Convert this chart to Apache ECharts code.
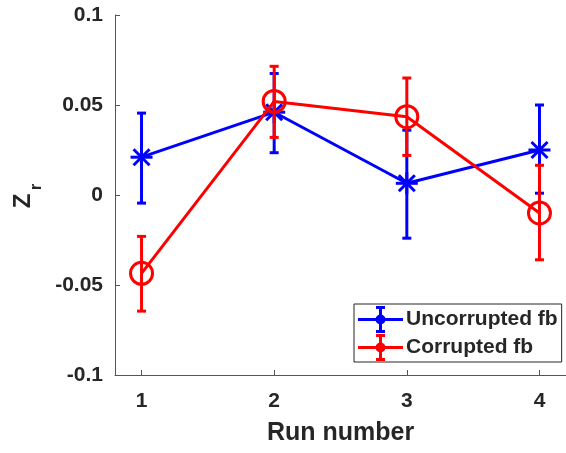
<!DOCTYPE html>
<html>
<head>
<meta charset="utf-8">
<script src="https://cdn.jsdelivr.net/npm/echarts@6/dist/echarts.min.js"></script>
<style>html,body{margin:0;padding:0;background:#fff;}#c{width:566px;height:453px;}</style>
</head>
<body>
<div id="c"></div>
<script>
// ---- data ----
const runs = [1, 2, 3, 4];
const uncorruptedMean = [0.021, 0.046, 0.0065, 0.025];
const uncorruptedLow  = [-0.0045, 0.0235, -0.024, 0.001];
const uncorruptedHigh = [0.0455, 0.0675, 0.036, 0.050];
const corruptedMean = [-0.0435, 0.052, 0.0435, -0.010];
const corruptedLow  = [-0.0645, 0.032, 0.022, -0.036];
const corruptedHigh = [-0.023, 0.0715, 0.065, 0.0165];
const seriesNames = ['Uncorrupted fb', 'Corrupted fb'];
const xTickValues = [1, 2, 3, 4];

const FONT = '"Liberation Sans", Arial, sans-serif';
const TXT = '#262626';
const AX = '#555555';
const BLUE = '#0000ff';
const RED = '#ff0000';

function pairs(means) { return runs.map((r, i) => [r, means[i]]); }
function quads(means, lo, hi) { return runs.map((r, i) => [r, means[i], lo[i], hi[i]]); }

function makeRender(color, marker) {
  return function (params, api) {
    const x = api.value(0), m = api.value(1), lo = api.value(2), hi = api.value(3);
    const pc = api.coord([x, m]), pl = api.coord([x, lo]), ph = api.coord([x, hi]);
    const st = { stroke: color, lineWidth: 3, fill: null };
    const cw = 4.5;
    const ch = [
      { type: 'line', shape: { x1: pl[0], y1: pl[1], x2: ph[0], y2: ph[1] }, style: st },
      { type: 'line', shape: { x1: pl[0] - cw, y1: pl[1], x2: pl[0] + cw, y2: pl[1] }, style: st },
      { type: 'line', shape: { x1: ph[0] - cw, y1: ph[1], x2: ph[0] + cw, y2: ph[1] }, style: st }
    ];
    if (marker === 'star') {
      const a = 11, d = 8;
      ch.push({ type: 'line', shape: { x1: pc[0] - a, y1: pc[1], x2: pc[0] + a, y2: pc[1] }, style: st });
      ch.push({ type: 'line', shape: { x1: pc[0], y1: pc[1] - a, x2: pc[0], y2: pc[1] + a }, style: st });
      ch.push({ type: 'line', shape: { x1: pc[0] - d, y1: pc[1] - d, x2: pc[0] + d, y2: pc[1] + d }, style: st });
      ch.push({ type: 'line', shape: { x1: pc[0] - d, y1: pc[1] + d, x2: pc[0] + d, y2: pc[1] - d }, style: st });
    } else {
      ch.push({ type: 'circle', shape: { cx: pc[0], cy: pc[1], r: 11 }, style: { stroke: color, lineWidth: 3, fill: 'none' } });
    }
    return { type: 'group', children: ch };
  };
}

const legendIcon = 'path://M0 12h45v3H0z M21 1h3v25h-3z M18 0h9v3h-9z M18 24h9v3h-9z M27.5 13.5A5 5 0 1 1 17.5 13.5A5 5 0 1 1 27.5 13.5z';

const chart = echarts.init(document.getElementById('c'), null, { renderer: 'canvas' });
chart.setOption({
  animation: false,
  backgroundColor: '#ffffff',
  grid: { left: 115, top: 15, width: 455, height: 360, containLabel: false },
  xAxis: {
    type: 'value', min: 0.8, max: 4.2,
    name: 'Run number', nameLocation: 'middle', nameGap: 46,
    nameTextStyle: { fontFamily: FONT, fontSize: 25, fontWeight: 'bold', color: TXT },
    axisLine: { show: true, onZero: false, lineStyle: { color: AX, width: 1 } },
    axisTick: { show: true, inside: true, length: 5, lineStyle: { color: AX }, customValues: xTickValues },
    axisLabel: { fontFamily: FONT, fontSize: 21, fontWeight: 'bold', color: TXT, margin: 16, customValues: xTickValues },
    splitLine: { show: false }
  },
  yAxis: {
    type: 'value', min: -0.1, max: 0.1, interval: 0.05,
    axisLine: { show: true, onZero: false, lineStyle: { color: AX, width: 1 } },
    axisTick: { show: true, inside: true, length: 5, lineStyle: { color: AX } },
    axisLabel: { fontFamily: FONT, fontSize: 21, fontWeight: 'bold', color: TXT, margin: 12 },
    splitLine: { show: false }
  },
  legend: {
    orient: 'vertical', left: 354, top: 304,
    padding: [2, 4, 1, 4], itemGap: 1,
    itemWidth: 45, itemHeight: 27,
    backgroundColor: '#fff', borderColor: TXT, borderWidth: 1,
    textStyle: { fontFamily: FONT, fontSize: 21, fontWeight: 'bold', color: TXT, padding: [0, 0, 0, -2] },
    itemStyle: { borderWidth: 0 },
    data: [
      { name: seriesNames[0], icon: legendIcon },
      { name: seriesNames[1], icon: legendIcon }
    ]
  },
  graphic: [
    { type: 'text', x: 23.5, y: 201, rotation: Math.PI / 2,
      style: { text: 'Z', font: 'bold 24px ' + FONT, fill: TXT, align: 'center', verticalAlign: 'middle' } },
    { type: 'text', x: 37, y: 187, rotation: Math.PI / 2,
      style: { text: 'r', font: 'bold 16px ' + FONT, fill: TXT, align: 'center', verticalAlign: 'middle' } }
  ],
  series: [
    { name: seriesNames[0], type: 'line', data: pairs(uncorruptedMean), symbol: 'none', z: 2,
      itemStyle: { color: BLUE }, lineStyle: { color: BLUE, width: 3 } },
    { name: seriesNames[0], type: 'custom', data: quads(uncorruptedMean, uncorruptedLow, uncorruptedHigh), z: 3,
      itemStyle: { color: BLUE }, encode: { x: 0, y: 1 }, renderItem: makeRender(BLUE, 'star') },
    { name: seriesNames[1], type: 'line', data: pairs(corruptedMean), symbol: 'none', z: 4,
      itemStyle: { color: RED }, lineStyle: { color: RED, width: 3 } },
    { name: seriesNames[1], type: 'custom', data: quads(corruptedMean, corruptedLow, corruptedHigh), z: 5,
      itemStyle: { color: RED }, encode: { x: 0, y: 1 }, renderItem: makeRender(RED, 'circle') }
  ]
});
</script>
</body>
</html>
